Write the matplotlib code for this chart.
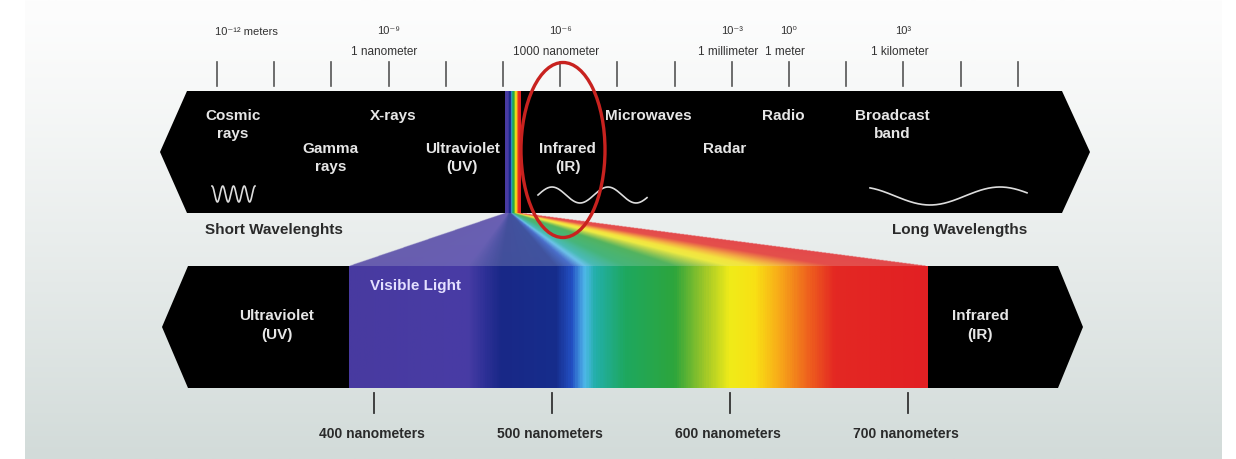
import numpy as np
import matplotlib.pyplot as plt
from matplotlib.colors import LinearSegmentedColormap
from matplotlib.patches import Polygon, Ellipse

plt.rcParams['font.family'] = ['Liberation Sans', 'DejaVu Sans']

# ---- data -------------------------------------------------------------
# top scale: one tick per decade (index 0 .. 14)
n_top_ticks = 15
top_label_tick = [0, 3, 6, 9, 10, 12]
top_label_power = ["10⁻¹² meters", "10⁻⁹", "10⁻⁶", "10⁻³", "10⁰", "10³"]
top_label_name = ["", "1 nanometer", "1000 nanometer", "1 millimeter", "1 meter", "1 kilometer"]

# regions written in the upper band (lines, centre in tick units, row)
band_names = [["Cosmic", "rays"], ["X-rays"], ["Gamma", "rays"], ["Ultraviolet", "(UV)"],
              ["Infrared", "(IR)"], ["Microwaves"], ["Radar"], ["Radio"], ["Broadcast", "band"]]
band_pos = [0.28, 3.08, 1.98, 4.29, 6.13, 7.54, 8.88, 9.9, 11.8]
band_row = [0, 0, 1, 1, 1, 0, 1, 0, 0]

# visible spectrum (nanometers -> colour)
spectrum_nm = [386, 452, 462, 471, 502, 511, 518, 524, 541, 569, 586, 600, 614, 628, 645, 659, 711]
spectrum_rgb = [(72, 58, 160), (72, 60, 165), (45, 48, 150), (25, 40, 135), (22, 45, 140),
                (35, 80, 195), (80, 185, 235), (35, 175, 170), (30, 168, 95), (45, 165, 60),
                (160, 200, 40), (240, 235, 25), (248, 225, 20), (248, 170, 25), (238, 95, 30),
                (228, 40, 35), (226, 32, 35)]
nm_ticks = [400, 500, 600, 700]

# ---- layout helpers (pixel space of the picture) ----------------------
W, H = 1236, 459
TICK0, DEC = 217, 57.2          # x of first top tick, px per decade
NM0, NMPX = 374, 1.78           # x of 400 nm, px per nm


def top_x(i):
    return TICK0 + DEC * i


def nm_x(nm):
    return NM0 + (nm - 400) * NMPX


lo, hi = spectrum_nm[0], spectrum_nm[-1]
cmap = LinearSegmentedColormap.from_list(
    "spec", [((n - lo) / (hi - lo), tuple(c / 255 for c in rgb))
             for n, rgb in zip(spectrum_nm, spectrum_rgb)])

fig = plt.figure(figsize=(W / 100, H / 100), dpi=100)
ax = fig.add_axes([0, 0, 1, 1])
ax.set_xlim(0, W)
ax.set_ylim(H, 0)
ax.axis('off')

# background gradient
g = np.linspace(0, 1, 200)[:, None]
top_c = np.array([253, 253, 253]) / 255
bot_c = np.array([210, 219, 217]) / 255
bg = top_c + (bot_c - top_c) * g ** 1.2
ax.imshow(bg[:, None, :].repeat(2, axis=1), extent=(25, 1222, H, 0), aspect='auto', zorder=0)

# upper band
T_TOP, T_BOT = 91, 213
ax.add_patch(Polygon([(187, T_TOP), (1062, T_TOP), (1090, 152), (1062, T_BOT), (187, T_BOT), (160, 152)],
                     closed=True, fc='black', ec='none', zorder=2))
# lower band
L_TOP, L_BOT = 266, 388
ax.add_patch(Polygon([(188, L_TOP), (1058, L_TOP), (1083, 327), (1058, L_BOT), (188, L_BOT), (162, 327)],
                     closed=True, fc='black', ec='none', zorder=2))

vis_left, vis_right = nm_x(lo), nm_x(hi)
strip_left, strip_right = 505, 521

# spectrum in the lower band
row = np.linspace(0, 1, 600)[None, :]
ax.imshow(row, cmap=cmap, extent=(vis_left, vis_right, L_BOT, L_TOP), aspect='auto', zorder=3)
# compressed spectrum in the upper band
ax.imshow(row, cmap=cmap, extent=(strip_left, strip_right, T_BOT, T_TOP), aspect='auto', zorder=3)

# fan between the two bands
ss = 2
xs = np.arange(340, 940, 1 / ss) + 0.25
ys = np.arange(T_BOT, L_TOP, 1 / ss) + 0.25
X, Y = np.meshgrid(xs, ys)
s = (Y - T_BOT) / (L_TOP - T_BOT)
xl = strip_left + s * (vis_left - strip_left)
xr = strip_right + s * (vis_right - strip_right)
t = (X - xl) / (xr - xl)
fan = cmap(np.clip(t, 0, 1))
fan[..., 3] = np.where((t >= 0) & (t <= 1), 0.8, 0)
ax.imshow(fan, extent=(340, 940, L_TOP, T_BOT), aspect='auto', zorder=2.5, interpolation='bilinear')

# top scale ticks and labels
for i in range(n_top_ticks):
    ax.plot([top_x(i), top_x(i)], [62, 86], color='#555555', lw=1.2, zorder=4)
for i, p, nme in zip(top_label_tick, top_label_power, top_label_name):
    if nme:
        ax.text(top_x(i), 34, p, ha='center', va='baseline', fontsize=8, color='#333333')
        ax.text(top_x(i) - 4, 55, nme, ha='center', va='baseline', fontsize=8.5, color='#333333')
    else:
        ax.text(top_x(i) - 2, 35, p, ha='left', va='baseline', fontsize=8, color='#333333')

# band labels
row_base = [120, 153]
for lines, pos, r in zip(band_names, band_pos, band_row):
    for k, ln in enumerate(lines):
        ax.text(top_x(pos), row_base[r] + 18 * k, ln, ha='center', va='baseline',
                fontsize=11, fontweight='bold', color='#e6e6e6', zorder=5)

# waves
wx = np.linspace(212, 255, 200)
ax.plot(wx, 194 - 8 * np.cos(2 * np.pi * 4 * (wx - 212) / 43), color='#dddddd', lw=1.2, zorder=5)
wx = np.linspace(538, 647, 200)
ax.plot(wx, 195 - 8 * np.sin(2 * np.pi * (wx - 538) / 56), color='#dddddd', lw=1.2, zorder=5)
wx = np.linspace(870, 1027, 200)
ax.plot(wx, 196 + 9 * np.sin(2 * np.pi * (wx - 895) / 140), color='#dddddd', lw=1.2, zorder=5)

ax.text(205, 234, "Short Wavelenghts", ha='left', va='baseline', fontsize=11,
        fontweight='bold', color='#2a2a2a')
ax.text(1027, 234, "Long Wavelengths", ha='right', va='baseline', fontsize=11,
        fontweight='bold', color='#2a2a2a')

# lower band labels
ax.text(370, 290, "Visible Light", ha='left', va='baseline', fontsize=11,
        fontweight='bold', color='#e4e0ff', zorder=5)
for k, ln in enumerate(["Ultraviolet", "(UV)"]):
    ax.text(277, 320 + 19 * k, ln, ha='center', va='baseline', fontsize=11,
            fontweight='bold', color='#e6e6e6', zorder=5)
for k, ln in enumerate(["Infrared", "(IR)"]):
    ax.text(980, 320 + 19 * k, ln, ha='center', va='baseline', fontsize=11,
            fontweight='bold', color='#e6e6e6', zorder=5)

for nm in nm_ticks:
    ax.plot([nm_x(nm), nm_x(nm)], [393, 413], color='#333333', lw=1.3, zorder=4)
    ax.text(nm_x(nm) - 2, 438, f"{nm} nanometers", ha='center', va='baseline',
            fontsize=10, fontweight='bold', color='#2a2a2a')

# red highlight around infrared
ax.add_patch(Ellipse((563, 150), 84, 175, fc='none', ec='#c8221f', lw=2.4, zorder=6))

fig.savefig("out.png", dpi=100)
